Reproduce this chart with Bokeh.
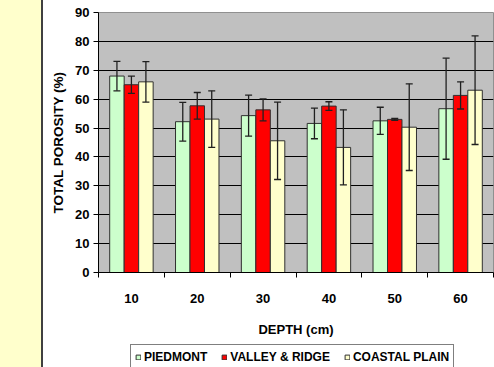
from bokeh.plotting import figure
from bokeh.models import (Legend, LegendItem, Whisker, TeeHead, ColumnDataSource,
                          FixedTicker, Range1d)
from bokeh.layouts import column
from bokeh.transform import dodge
from bokeh.embed import file_html
from bokeh.resources import INLINE

depths = ["10", "20", "30", "40", "50", "60"]
piedmont = [68.0, 52.2, 54.3, 51.6, 52.5, 56.7]
piedmont_err = [5.1, 6.7, 7.1, 5.3, 4.7, 17.5]
valley = [65.0, 57.7, 56.3, 57.6, 53.0, 61.3]
valley_err = [3.0, 4.6, 3.8, 1.5, 0.3, 4.7]
coastal = [66.0, 53.1, 45.6, 43.3, 50.3, 63.1]
coastal_err = [7.0, 9.8, 13.4, 13.0, 15.0, 18.8]
series_names = ["PIEDMONT", "VALLEY & RIDGE", "COASTAL PLAIN"]
colors = ["#CCFFCC", "#FF0000", "#FFFFCC"]

FONT = "Liberation Sans"
BG = {"background": "linear-gradient(to right, #FFFFCC 0px, #FFFFCC 41px, #404040 41px, "
                    "#404040 43px, #FFFFFF 43px, #FFFFFF 100%)"}

xs = list(range(1, len(depths) + 1))
src = ColumnDataSource(dict(
    x=xs,
    p=piedmont, p_up=[v + e for v, e in zip(piedmont, piedmont_err)], p_lo=[v - e for v, e in zip(piedmont, piedmont_err)],
    v=valley, v_up=[v + e for v, e in zip(valley, valley_err)], v_lo=[v - e for v, e in zip(valley, valley_err)],
    c=coastal, c_up=[v + e for v, e in zip(coastal, coastal_err)], c_lo=[v - e for v, e in zip(coastal, coastal_err)],
))

p = figure(width=494, height=344, output_backend="svg", toolbar_location=None,
           x_range=Range1d(0.5, 6.5), y_range=Range1d(0, 90),
           min_border_left=98, min_border_right=1, min_border_top=12, min_border_bottom=72,
           styles=BG)
p.background_fill_color = "#C0C0C0"
p.border_fill_alpha = 0
p.outline_line_color = "#909090"

W = 0.22
offs = [-W, 0.0, W]
keys = ["p", "v", "c"]
for key, color, off in zip(keys, colors, offs):
    p.vbar(x=dodge("x", off, range=p.x_range), top=key, width=W, bottom=0, source=src,
           fill_color=color, line_color="#303030", line_width=1)
for key, off in zip(keys, offs):
    w = Whisker(source=src, base=dodge("x", off, range=p.x_range), upper=key + "_up", lower=key + "_lo",
                line_color="#202020", line_width=1.3, level="overlay",
                upper_head=TeeHead(size=7, line_color="#202020", line_width=1.3),
                lower_head=TeeHead(size=7, line_color="#202020", line_width=1.3))
    p.add_layout(w)

# axes
xa = p.xaxis[0]
xa.ticker = FixedTicker(ticks=xs, minor_ticks=[i + 0.5 for i in range(0, len(depths) + 1)])
xa.major_label_overrides = {x: d for x, d in zip(xs, depths)}
xa.major_tick_out = 0
xa.major_tick_in = 0
xa.minor_tick_out = 5
xa.minor_tick_in = 0
xa.minor_tick_line_color = "black"
xa.axis_line_color = "black"
xa.major_label_standoff = 16
xa.major_label_text_font = FONT
xa.major_label_text_font_style = "bold"
xa.major_label_text_font_size = "13px"
xa.major_label_text_color = "black"
xa.axis_label = "DEPTH (cm)"
xa.axis_label_text_font = FONT
xa.axis_label_text_font_style = "bold"
xa.axis_label_text_font_size = "13px"
xa.axis_label_standoff = 16
xa.axis_label_text_color = "black"

ya = p.yaxis[0]
ya.ticker = FixedTicker(ticks=list(range(0, 91, 10)))
ya.major_tick_out = 5
ya.major_tick_in = 0
ya.minor_tick_out = 0
ya.minor_tick_in = 0
ya.axis_line_color = "black"
ya.major_tick_line_color = "black"
ya.major_label_standoff = 4
ya.major_label_text_font = FONT
ya.major_label_text_font_style = "bold"
ya.major_label_text_font_size = "13px"
ya.major_label_text_color = "black"
ya.axis_label = "TOTAL POROSITY (%)"
ya.axis_label_text_font = FONT
ya.axis_label_text_font_style = "bold"
ya.axis_label_text_font_size = "13.5px"
ya.axis_label_standoff = 6
ya.axis_label_text_color = "black"

p.xgrid.grid_line_color = None
p.ygrid.grid_line_color = "black"
p.ygrid.grid_line_width = 1

# legend strip
pl = figure(width=494, height=23, output_backend="svg", toolbar_location=None,
            x_range=Range1d(0, 1), y_range=Range1d(0, 1), x_axis_type=None, y_axis_type=None,
            min_border_left=98, min_border_right=1, min_border_top=0, min_border_bottom=0,
            styles=BG)
pl.background_fill_alpha = 0
pl.border_fill_alpha = 0
pl.outline_line_color = None
pl.xgrid.grid_line_color = None
pl.ygrid.grid_line_color = None
leg_rs = []
for color in colors:
    leg_rs.append(pl.vbar(x=[-5], top=[-5], bottom=[-6], width=0.1,
                          fill_color=color, line_color="#303030", line_width=1))
legend = Legend(items=[LegendItem(label=n, renderers=[r]) for n, r in zip(series_names, leg_rs)],
                orientation="horizontal", location=(32, -3),
                label_text_font=FONT, label_text_font_style="bold", label_text_font_size="12px",
                label_text_color="black",
                glyph_width=6, glyph_height=6, label_standoff=3, spacing=14,
                padding=4, margin=0, border_line_color="black", border_line_width=1,
                label_height=16, background_fill_color="white", background_fill_alpha=1.0)
pl.add_layout(legend)

layout = column(p, pl, spacing=0)

open("out.html", "w").write(file_html(layout, INLINE))
